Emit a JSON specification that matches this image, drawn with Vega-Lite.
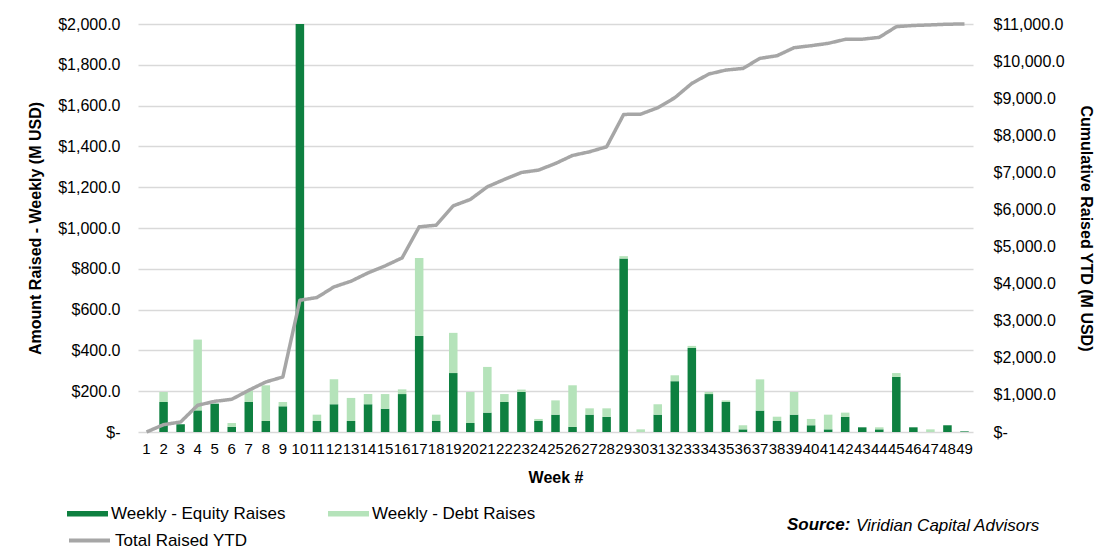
{
  "$schema": "https://vega.github.io/schema/vega-lite/v6.json",
  "width": 835,
  "height": 408,
  "autosize": {"type": "none"},
  "padding": {"left": 138, "top": 24, "right": 127, "bottom": 118},
  "background": "white",
  "config": {
    "font": "Liberation Sans",
    "view": {"stroke": null},
    "axis": {"labelColor": "black", "titleColor": "black", "labelFont": "Liberation Sans", "titleFont": "Liberation Sans"},
    "legend": {"labelColor": "black", "labelFontSize": 17, "labelFont": "Liberation Sans", "labelLimit": 400}
  },
  "data": {
    "values": [
      {"week": 1, "equity": 0, "debt": 0, "cumulative": 0},
      {"week": 2, "equity": 147, "debt": 49, "cumulative": 198},
      {"week": 3, "equity": 38, "debt": 0, "cumulative": 270},
      {"week": 4, "equity": 106, "debt": 347, "cumulative": 720},
      {"week": 5, "equity": 139, "debt": 0, "cumulative": 827},
      {"week": 6, "equity": 25, "debt": 19, "cumulative": 881},
      {"week": 7, "equity": 147, "debt": 57, "cumulative": 1124},
      {"week": 8, "equity": 54, "debt": 175, "cumulative": 1349},
      {"week": 9, "equity": 126, "debt": 21, "cumulative": 1484},
      {"week": 10, "equity": 2069, "debt": 0, "cumulative": 3553},
      {"week": 11, "equity": 54, "debt": 31, "cumulative": 3625},
      {"week": 12, "equity": 136, "debt": 122, "cumulative": 3912},
      {"week": 13, "equity": 54, "debt": 113, "cumulative": 4065},
      {"week": 14, "equity": 136, "debt": 50, "cumulative": 4290},
      {"week": 15, "equity": 114, "debt": 72, "cumulative": 4479},
      {"week": 16, "equity": 186, "debt": 23, "cumulative": 4695},
      {"week": 17, "equity": 471, "debt": 382, "cumulative": 5531},
      {"week": 18, "equity": 54, "debt": 31, "cumulative": 5576},
      {"week": 19, "equity": 289, "debt": 197, "cumulative": 6098},
      {"week": 20, "equity": 44, "debt": 152, "cumulative": 6269},
      {"week": 21, "equity": 95, "debt": 224, "cumulative": 6611},
      {"week": 22, "equity": 147, "debt": 39, "cumulative": 6809},
      {"week": 23, "equity": 196, "debt": 12, "cumulative": 6997},
      {"week": 24, "equity": 54, "debt": 10, "cumulative": 7060},
      {"week": 25, "equity": 85, "debt": 70, "cumulative": 7240},
      {"week": 26, "equity": 25, "debt": 204, "cumulative": 7456},
      {"week": 27, "equity": 85, "debt": 31, "cumulative": 7555},
      {"week": 28, "equity": 74, "debt": 42, "cumulative": 7690},
      {"week": 29, "equity": 850, "debt": 12, "cumulative": 8562},
      {"week": 30, "equity": 0, "debt": 13, "cumulative": 8570},
      {"week": 31, "equity": 85, "debt": 51, "cumulative": 8742},
      {"week": 32, "equity": 249, "debt": 29, "cumulative": 9012},
      {"week": 33, "equity": 412, "debt": 10, "cumulative": 9399},
      {"week": 34, "equity": 186, "debt": 10, "cumulative": 9651},
      {"week": 35, "equity": 147, "debt": 8, "cumulative": 9758},
      {"week": 36, "equity": 13, "debt": 20, "cumulative": 9803},
      {"week": 37, "equity": 105, "debt": 153, "cumulative": 10073},
      {"week": 38, "equity": 54, "debt": 21, "cumulative": 10145},
      {"week": 39, "equity": 85, "debt": 111, "cumulative": 10361},
      {"week": 40, "equity": 33, "debt": 31, "cumulative": 10415},
      {"week": 41, "equity": 13, "debt": 72, "cumulative": 10478},
      {"week": 42, "equity": 74, "debt": 21, "cumulative": 10586},
      {"week": 43, "equity": 23, "debt": 0, "cumulative": 10590},
      {"week": 44, "equity": 13, "debt": 10, "cumulative": 10640},
      {"week": 45, "equity": 270, "debt": 19, "cumulative": 10928},
      {"week": 46, "equity": 23, "debt": 0, "cumulative": 10960},
      {"week": 47, "equity": 0, "debt": 13, "cumulative": 10975},
      {"week": 48, "equity": 33, "debt": 0, "cumulative": 10995},
      {"week": 49, "equity": 3, "debt": 0, "cumulative": 11000}
    ]
  },
  "layer": [
    {
      "transform": [{"fold": ["equity", "debt"], "as": ["key", "amount"]}],
      "mark": {"type": "bar", "clip": true},
      "encoding": {
        "x": {
          "field": "week",
          "type": "ordinal",
          "scale": {"paddingInner": 0.5, "paddingOuter": 0.25},
          "axis": {
            "title": "Week #",
            "titleFontSize": 16,
            "titleFontWeight": "bold",
            "titleY": 45,
            "titleBaseline": "middle",
            "labelAngle": 0,
            "labelOverlap": false,
            "labelFontSize": 15,
            "labelPadding": 9,
            "domain": false,
            "ticks": false,
            "grid": false
          }
        },
        "y": {
          "field": "amount",
          "type": "quantitative",
          "stack": "zero",
          "scale": {"domain": [0, 2000], "nice": false},
          "axis": {
            "title": "Amount Raised - Weekly (M USD)",
            "titleFontSize": 16,
            "titleFontWeight": "bold",
            "titleX": -103,
            "titleY": 204,
            "titleAngle": -90,
            "titleAlign": "center",
            "titleBaseline": "middle",
            "values": [0, 200, 400, 600, 800, 1000, 1200, 1400, 1600, 1800, 2000],
            "labelExpr": "datum.value == 0 ? '$-' : format(datum.value, '$,.1f')",
            "labelFontSize": 16,
            "labelPadding": 18,
            "domain": false,
            "ticks": false,
            "grid": true,
            "gridColor": "#D9D9D9",
            "gridWidth": 1.5
          }
        },
        "fill": {
          "field": "key",
          "type": "nominal",
          "scale": {"domain": ["equity", "debt"], "range": ["#0E8040", "#B5E3BA"]},
          "legend": {
            "orient": "none",
            "legendX": -71,
            "legendY": 469,
            "direction": "horizontal",
            "columns": 2,
            "title": null,
            "symbolType": "M-1,-0.14H1V0.14H-1Z",
            "symbolSize": 1681,
            "symbolStrokeWidth": 0,
            "labelOffset": 3,
            "columnPadding": 42,
            "labelExpr": "datum.label == 'equity' ? 'Weekly - Equity Raises' : 'Weekly - Debt Raises'"
          }
        },
        "order": {"field": "key", "sort": "descending"}
      }
    },
    {
      "mark": {"type": "line", "strokeWidth": 3.5, "strokeJoin": "round"},
      "encoding": {
        "x": {"field": "week", "type": "ordinal"},
        "y": {
          "field": "cumulative",
          "type": "quantitative",
          "scale": {"domain": [0, 11000], "nice": false},
          "axis": {
            "orient": "right",
            "title": "Cumulative Raised YTD (M USD)",
            "titleFontSize": 16,
            "titleFontWeight": "bold",
            "titleX": 112,
            "titleY": 204,
            "titleAngle": 90,
            "titleAlign": "center",
            "titleBaseline": "middle",
            "values": [0, 1000, 2000, 3000, 4000, 5000, 6000, 7000, 8000, 9000, 10000, 11000],
            "labelExpr": "datum.value == 0 ? '$-' : format(datum.value, '$,.1f')",
            "labelFontSize": 16,
            "labelPadding": 20,
            "domain": false,
            "ticks": false,
            "grid": false
          }
        },
        "stroke": {
          "datum": "Total Raised YTD",
          "scale": {"range": ["#A6A6A6"]},
          "legend": {
            "orient": "none",
            "legendX": -71,
            "legendY": 494,
            "title": null,
            "symbolType": "stroke",
            "symbolSize": 1681,
            "symbolStrokeWidth": 4,
            "labelOffset": 3
          }
        },
        "strokeDash": {
          "datum": "Viridian Capital Advisors",
          "scale": {"range": [[1, 0]]},
          "legend": {
            "orient": "none",
            "legendX": 649,
            "legendY": 493,
            "title": "Source:",
            "titleOrient": "left",
            "titleFontSize": 17,
            "titleFontStyle": "italic",
            "titleFontWeight": "bold",
            "titleColor": "black",
            "titleFont": "Liberation Sans",
            "titlePadding": -12,
            "labelFontStyle": "italic",
            "symbolSize": 0,
            "symbolOpacity": 0,
            "labelOffset": 0
          }
        }
      }
    }
  ],
  "resolve": {"scale": {"y": "independent"}}
}
